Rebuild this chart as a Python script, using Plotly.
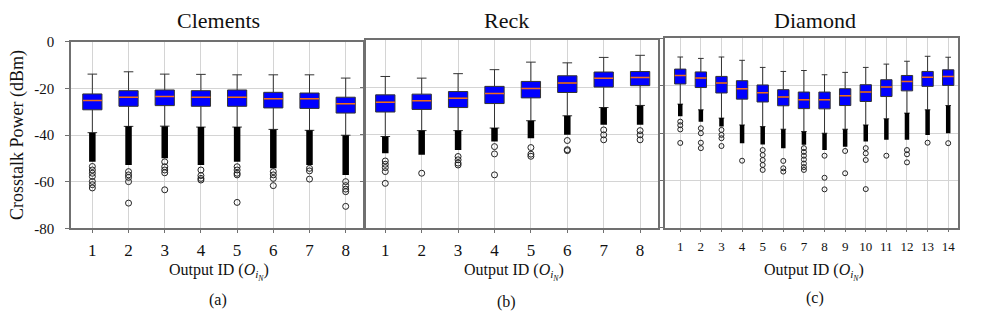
import plotly.graph_objects as go

W, H = 983, 313
FONT = "Liberation Serif, Times New Roman, Tinos, DejaVu Serif, serif"

# ---------------- data (dBm) ----------------
titles = ["Clements", "Reck", "Diamond"]
sublabels = ["(a)", "(b)", "(c)"]

cats_a = [1, 2, 3, 4, 5, 6, 7, 8]
upper_a = [-13.9, -12.9, -13.9, -14.0, -14.2, -14.2, -14.2, -15.6]
q3_a = [-22.4, -21.0, -20.7, -21.0, -20.7, -21.7, -22.0, -23.8]
med_a = [-25.2, -23.8, -23.5, -23.8, -23.8, -24.5, -24.5, -26.6]
q1_a = [-29.2, -27.7, -27.4, -27.7, -27.7, -28.4, -28.6, -30.6]
lower_a = [-39.0, -36.3, -36.2, -36.6, -36.6, -37.6, -38.0, -40.1]
dense_end_a = [-51.5, -52.9, -50.0, -52.9, -51.5, -54.3, -52.9, -57.1]
outliers_a = [
    [-53.5, -55.0, -56.4, -57.8, -59.9, -61.3, -62.7],
    [-55.7, -57.1, -58.2, -60.0, -69.2],
    [-51.5, -53.6, -55.0, -56.2, -63.5],
    [-55.0, -57.4, -58.6, -59.3],
    [-53.6, -55.0, -56.4, -57.1, -68.9],
    [-55.7, -57.1, -58.6, -61.7],
    [-54.3, -55.4, -58.9],
    [-60.0, -61.7, -63.2, -64.3, -70.6],
]

cats_b = [1, 2, 3, 4, 5, 6, 7, 8]
upper_b = [-15.5, -16.2, -14.3, -12.6, -9.4, -9.7, -7.4, -6.5]
q3_b = [-23.3, -23.0, -21.9, -19.7, -17.6, -15.2, -13.6, -13.4]
med_b = [-26.4, -25.8, -24.7, -22.7, -20.6, -18.3, -16.3, -15.9]
q1_b = [-30.6, -29.5, -28.7, -27.0, -24.6, -22.3, -20.0, -19.4]
lower_b = [-41.0, -38.5, -38.5, -37.4, -34.3, -32.2, -28.7, -27.8]
dense_end_b = [-48.1, -48.8, -46.7, -43.1, -41.7, -40.3, -36.0, -36.0]
outliers_b = [
    [-51.4, -52.8, -54.2, -55.9, -60.9],
    [-56.6],
    [-49.5, -50.9, -52.3, -53.1],
    [-45.3, -48.4, -57.3],
    [-45.7, -48.5, -49.4],
    [-42.7, -46.6, -47.0],
    [-38.2, -40.3, -42.4],
    [-38.5, -40.3, -42.4],
]

cats_c = list(range(1, 15))
upper_c = [-7.9, -8.5, -7.9, -9.3, -12.3, -14.0, -13.6, -15.4, -14.4, -12.3, -10.9, -9.7, -7.6, -8.0]
q3_c = [-13.0, -14.2, -16.1, -17.9, -19.7, -21.7, -22.7, -22.7, -21.3, -19.6, -17.5, -15.7, -14.0, -13.3]
med_c = [-15.7, -16.8, -18.9, -21.3, -23.0, -24.8, -26.0, -26.0, -24.3, -22.7, -20.6, -18.2, -16.5, -16.1]
q1_c = [-19.3, -20.8, -23.1, -25.7, -26.9, -28.5, -29.7, -29.8, -28.4, -26.7, -24.6, -22.2, -20.3, -19.9]
lower_c = [-27.8, -30.2, -33.7, -36.6, -37.3, -38.4, -39.4, -40.1, -38.4, -36.6, -34.0, -31.6, -30.2, -28.4]
dense_end_c = [-32.9, -35.2, -37.3, -44.3, -44.9, -46.4, -45.0, -47.2, -45.8, -43.6, -42.9, -42.9, -40.8, -40.1]
outliers_c = [
    [-35.2, -36.7, -38.5, -44.2],
    [-38.0, -40.1, -44.1, -46.4],
    [-38.7, -40.8, -42.2, -45.5],
    [-51.7],
    [-47.2, -49.3, -51.4, -53.5, -55.6],
    [-51.8, -54.9, -56.3],
    [-46.4, -48.0, -49.6, -51.2, -52.9, -54.4, -55.6],
    [-49.6, -58.9, -63.8],
    [-47.6, -57.0],
    [-46.4, -48.6, -51.4, -63.7],
    [-49.6],
    [-47.2, -49.0, -52.4],
    [-44.1],
    [-44.3],
]

y_ticks = [0, -20, -40, -60, -80]
y_ticktext = ["0", "-20", "-40", "-60", "-80"]
y_title = "Crosstalk Power (dBm)"
x_title = "Output ID (<i>O</i><sub><i>i</i><sub><i>N</i></sub></sub>)"

# ---------------- layout geometry (pixels) ----------------
def px(x):
    return x / W

def py(y):
    return 1 - y / H

panels = [
    dict(cats=cats_a, up=upper_a, q3=q3_a, med=med_a, q1=q1_a, lo=lower_a, dend=dense_end_a, out=outliers_a,
         xl=71, xr=362.7, yt=41.7, yb=228.3, xrange=[0.41, 8.47], boxw=0.53, medsize=13.6,
         dense_w=6.5, msize=6, tickfs=17, title_x=218, sub_y=300),
    dict(cats=cats_b, up=upper_b, q3=q3_b, med=med_b, q1=q1_b, lo=lower_b, dend=dense_end_b, out=outliers_b,
         xl=366, xr=658.3, yt=40, yb=228.3, xrange=[0.47, 8.5], boxw=0.53, medsize=13.6,
         dense_w=6.5, msize=6, tickfs=17, title_x=507, sub_y=302),
    dict(cats=cats_c, up=upper_c, q3=q3_c, med=med_c, q1=q1_c, lo=lower_c, dend=dense_end_c, out=outliers_c,
         xl=665, xr=958.3, yt=38.3, yb=227.7, xrange=[0.26, 14.49], boxw=0.55, medsize=8.0,
         dense_w=4.5, msize=5, tickfs=13, title_x=815, sub_y=298),
]

fig = go.Figure()
annotations = []
for i, p in enumerate(panels):
    sfx = "" if i == 0 else str(i + 1)
    xa, ya = "x" + sfx, "y" + sfx

    # dense outlier columns (overlapping circles)
    dx, dy = [], []
    for c, a, b in zip(p["cats"], p["lo"], p["dend"]):
        dx += [c, c, None]
        dy += [a, b, None]
    fig.add_trace(go.Scatter(x=dx, y=dy, mode="lines", xaxis=xa, yaxis=ya,
                             line=dict(color="black", width=p["dense_w"]), showlegend=False, hoverinfo="skip"))
    # individual outliers
    ox, oy = [], []
    for c, vals in zip(p["cats"], p["out"]):
        for v in vals:
            ox.append(c)
            oy.append(v)
    fig.add_trace(go.Scatter(x=ox, y=oy, mode="markers", xaxis=xa, yaxis=ya,
                             marker=dict(symbol="circle-open", size=p["msize"], color="#222",
                                         line=dict(width=1, color="#222")),
                             showlegend=False))
    # boxes
    fig.add_trace(go.Box(x=p["cats"], q1=p["q1"], median=p["med"], q3=p["q3"],
                         lowerfence=p["lo"], upperfence=p["up"], xaxis=xa, yaxis=ya,
                         width=p["boxw"], whiskerwidth=0.5, boxpoints=False,
                         fillcolor="#0000FF", line=dict(color="#333333", width=1),
                         showlegend=False))
    # median lines
    fig.add_trace(go.Scatter(x=p["cats"], y=p["med"], mode="markers", xaxis=xa, yaxis=ya,
                             marker=dict(symbol="line-ew", size=p["medsize"],
                                         line=dict(color="#F26B1D", width=1.5)),
                             showlegend=False))

    axis_common = dict(showline=True, mirror=True, linecolor="#707070", linewidth=1.5,
                       showgrid=True, gridcolor="#d4d4d4", gridwidth=1, zeroline=False,
                       automargin=False)
    fig.layout["xaxis" + sfx] = dict(
        domain=[px(p["xl"]), px(p["xr"])], anchor=ya, range=p["xrange"],
        tickvals=p["cats"], ticktext=[str(c) for c in p["cats"]],
        ticks="outside", ticklen=3, tickcolor="#707070", ticklabelstandoff=3,
        tickfont=dict(family=FONT, size=p["tickfs"], color="#111"), **axis_common)
    fig.layout["yaxis" + sfx] = dict(
        domain=[py(p["yb"]), py(p["yt"])], anchor=xa, range=[-80, 0],
        tickvals=y_ticks, ticktext=y_ticktext, showticklabels=(i == 0),
        ticks="outside", ticklen=4, tickcolor="#707070", ticklabelstandoff=8,
        tickfont=dict(family=FONT, size=15, color="#111"), **axis_common)

    cx = (p["xl"] + p["xr"]) / 2
    annotations.append(dict(text=titles[i], x=px(p["title_x"]), y=py(21), xref="paper", yref="paper",
                            showarrow=False, xanchor="center", yanchor="middle",
                            font=dict(family=FONT, size=22, color="#111")))
    annotations.append(dict(text=x_title, x=px(cx + 2), y=py(272), xref="paper", yref="paper",
                            showarrow=False, xanchor="center", yanchor="middle",
                            font=dict(family=FONT, size=16, color="#111")))
    annotations.append(dict(text=sublabels[i], x=px(p["title_x"]), y=py(p["sub_y"]), xref="paper", yref="paper",
                            showarrow=False, xanchor="center", yanchor="middle",
                            font=dict(family=FONT, size=16, color="#111")))

annotations.append(dict(text=y_title, x=px(18), y=py(135), xref="paper", yref="paper",
                        showarrow=False, xanchor="center", yanchor="middle", textangle=-90,
                        font=dict(family=FONT, size=18, color="#111")))

fig.update_layout(width=W, height=H, margin=dict(l=0, r=0, t=0, b=0, autoexpand=False),
                  paper_bgcolor="white", plot_bgcolor="white",
                  font=dict(family=FONT),
                  annotations=annotations, showlegend=False)

fig.write_html("out.html", config={"displayModeBar": False},
               post_script="document.body.style.margin='0';document.body.style.overflow='hidden';")
